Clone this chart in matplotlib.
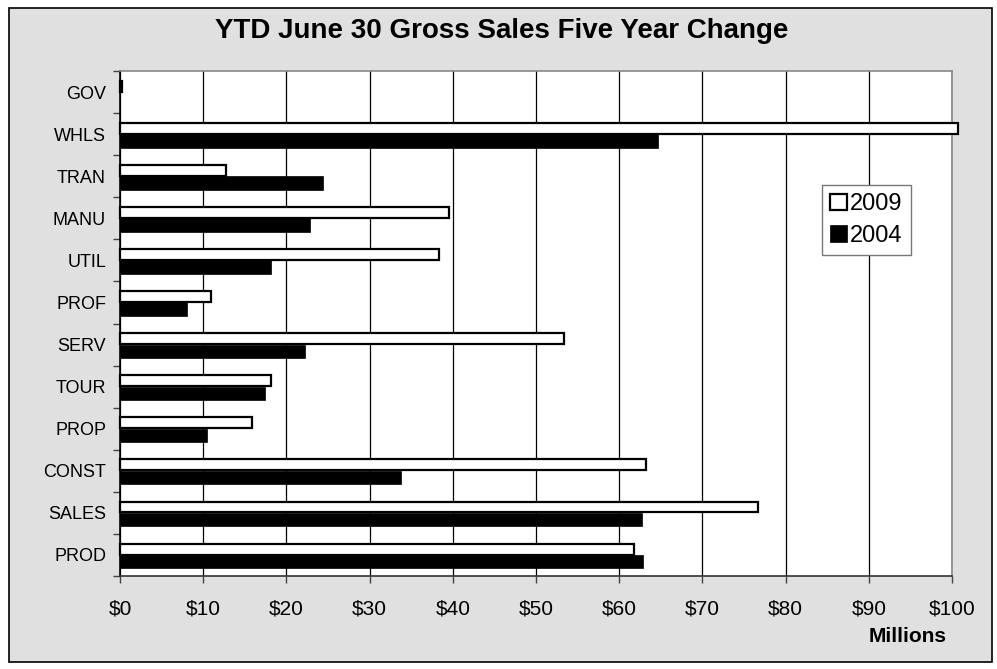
import matplotlib.pyplot as plt
import numpy as np
from matplotlib.patches import Rectangle

plt.rcParams['font.family'] = ['Liberation Sans', 'DejaVu Sans']

# data (millions), top to bottom
cats = ['GOV', 'WHLS', 'TRAN', 'MANU', 'UTIL', 'PROF', 'SERV', 'TOUR', 'PROP', 'CONST', 'SALES', 'PROD']
y2009 = [0.3, 100.7, 12.7, 39.5, 38.3, 10.9, 53.4, 18.2, 15.9, 63.2, 76.7, 61.8]
y2004 = [0.0, 64.7, 24.4, 22.8, 18.2, 8.1, 22.2, 17.4, 10.5, 33.8, 62.8, 62.9]
xticks = [0, 10, 20, 30, 40, 50, 60, 70, 80, 90, 100]

fig = plt.figure(figsize=(9.97, 6.69), dpi=100)
fig.patch.set_facecolor('white')
# grey chart area with black frame
fig.patches.append(Rectangle((9/997, 1-662/669), 983/997, 654/669, transform=fig.transFigure,
                             facecolor='#e0e0e0', edgecolor='black', lw=1.2, zorder=-1))

ax = fig.add_axes([120/997, 1-576/669, 832/997, 505/669])
ax.set_zorder(2)
ax.set_facecolor('white')

pos = np.arange(len(cats))
ax.barh(pos - 0.14, y2009, height=0.26, color='white', edgecolor='black', lw=1.6,
        label='2009', zorder=3, clip_on=False)
ax.barh(pos + 0.16, y2004, height=0.32, color='black', edgecolor='black', lw=0.5,
        label='2004', zorder=3)

ax.set_xlim(0, 100)
ax.set_ylim(11.5, -0.5)
ax.set_xticks(xticks)
ax.set_xticklabels(['$%d' % v for v in xticks], fontsize=15)
ax.xaxis.grid(True, color='black', lw=0.9, zorder=1)
ax.set_axisbelow(True)
ax.set_yticks(np.arange(-0.5, 12, 1))
ax.set_yticklabels([])
ax.set_yticks(pos, minor=True)
ax.set_yticklabels(cats, minor=True, fontsize=13)
ax.tick_params(axis='y', which='minor', length=0, pad=10)
ax.tick_params(axis='y', which='major', length=5, width=1, color='#444444')
ax.tick_params(axis='x', length=5, width=1, color='#444444', pad=12)

for s in ['top', 'right']:
    ax.spines[s].set_color('#888888')
    ax.spines[s].set_linewidth(1.2)
ax.spines['left'].set_color('black')
ax.spines['bottom'].set_color('#333333')
ax.spines['left'].set_linewidth(1.2)
ax.spines['bottom'].set_linewidth(1.2)

fig.text(502/997, 1-31/669, 'YTD June 30 Gross Sales Five Year Change', ha='center', va='center',
         fontsize=20, fontweight='bold')
fig.text(908/997, 1-637/669, 'Millions', ha='center', va='center', fontsize=15, fontweight='bold')

leg = ax.legend(loc='upper left', bbox_to_anchor=(702/832, 1-114/505), fontsize=17,
                fancybox=False, edgecolor='#777777', framealpha=1, handlelength=0.7,
                handleheight=0.7, handletextpad=0.15, borderpad=0.35, labelspacing=0.4,
                borderaxespad=0)
leg.get_frame().set_linewidth(1)

fig.savefig('out.png', dpi=100)
